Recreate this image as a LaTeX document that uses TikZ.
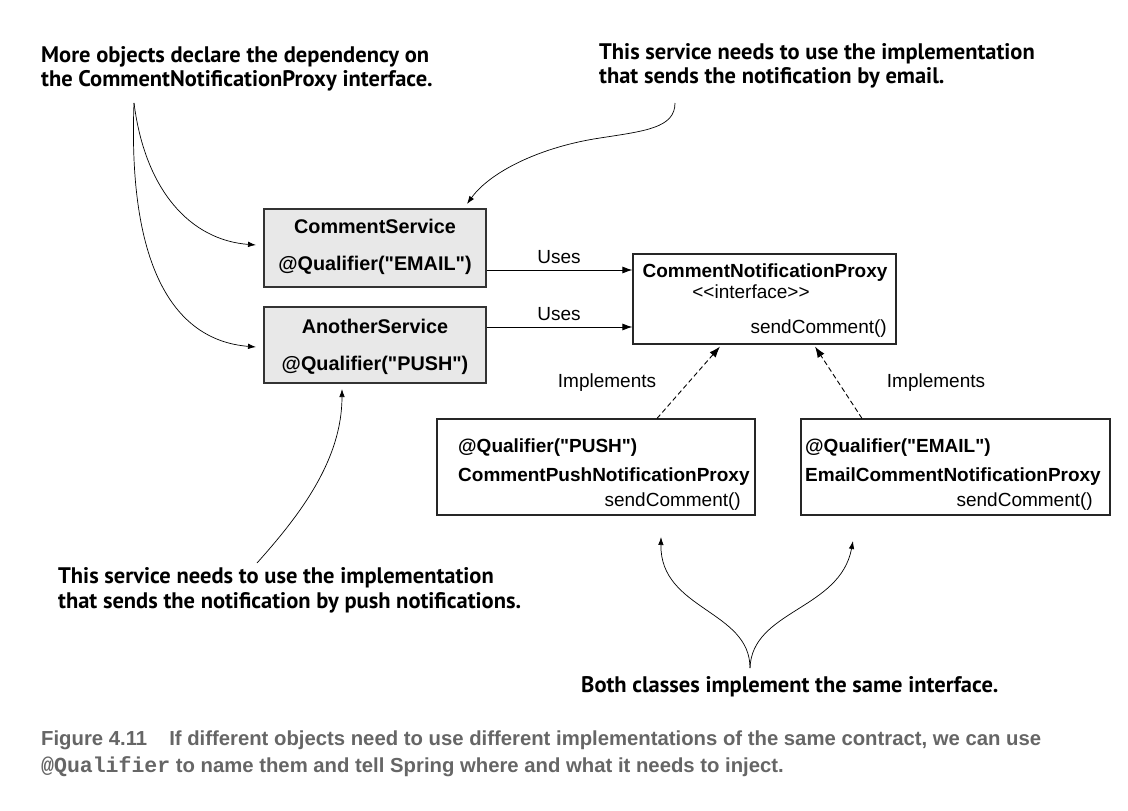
\documentclass[tikz,border=0pt]{standalone}
\usepackage{fontspec}
\setmainfont{Liberation Sans}
\newfontfamily\annotfont{PT Sans}
\newfontfamily\umlfont{Liberation Sans}
\newfontfamily\capfont{Liberation Sans}
\newfontfamily\capmono{Liberation Mono}
\usetikzlibrary{arrows.meta}
\definecolor{boxgrey}{HTML}{E8E8E8}
\definecolor{capgrey}{HTML}{666666}
\begin{document}
\begin{tikzpicture}[x=1pt,y=-1pt,
  svc/.style={draw=black!80, fill=boxgrey, line width=1.2pt, inner sep=0pt},
  cls/.style={draw=black!85, fill=white, line width=1.1pt, inner sep=0pt},
  lbl/.style={font=\umlfont\fontsize{19}{22}\selectfont, inner sep=0pt, anchor=base},
  blbl/.style={lbl, font=\umlfont\bfseries\fontsize{19}{22}\selectfont},
  sbl/.style={lbl, font=\umlfont\bfseries\fontsize{19.8}{22}\selectfont},
  annot/.style={font=\annotfont\bfseries\fontsize{22.5}{25}\selectfont, inner sep=0pt, anchor=base west},
  captxt/.style={font=\capfont\bfseries\fontsize{20.3}{24}\selectfont, text=capgrey, inner sep=0pt, anchor=base west},
  uses/.style={-{Latex[length=10pt,width=7pt]}, line width=0.9pt},
  impl/.style={-{Latex[length=11pt,width=8pt]}, line width=0.9pt, dash pattern=on 5pt off 3pt},
  callout/.style={-{Latex[length=8pt,width=5.5pt]}, line width=0.7pt}
]
\useasboundingbox[fill=white] (0,0) rectangle (1128,811);

% boxes
\node[svc, minimum width=222pt, minimum height=78pt] (cs) at (375,248) {};
\node[svc, minimum width=222pt, minimum height=76pt] (as) at (375,345) {};
\node[cls, minimum width=263pt, minimum height=90pt] (proxy) at (764.5,299) {};
\node[cls, minimum width=318pt, minimum height=96pt] (push) at (596,467) {};
\node[cls, minimum width=309pt, minimum height=96pt] (email) at (955.5,467) {};

% box texts
\node[sbl] (csname) at (375,233) {CommentService};
\node[sbl] (csq) at (375,270) {@Qualifier("EMAIL")};
\node[sbl] (asname) at (375,333) {AnotherService};
\node[sbl] (asq) at (375,370) {@Qualifier("PUSH")};
\node[blbl] (pname) at (765,277) {CommentNotificationProxy};
\node[lbl] (pint) at (751,298) {<{}<interface>{}>};
\node[lbl, anchor=base east] (pm) at (887,333) {sendComment()};
\node[blbl, anchor=base west] (pushq) at (458,452) {@Qualifier("PUSH")};
\node[blbl, anchor=base west] (pushn) at (458,481) {CommentPushNotificationProxy};
\node[lbl, anchor=base east] (pushm) at (741,506) {sendComment()};
\node[blbl, anchor=base west] (emq) at (805,452) {@Qualifier("EMAIL")};
\node[blbl, anchor=base west] (emn) at (805,481) {EmailCommentNotificationProxy};
\node[lbl, anchor=base east] (emm) at (1093,506) {sendComment()};

% connectors
\draw[uses] ([yshift=-22pt]cs.east) -- ([yshift=-22pt]cs.east -| proxy.west);
\draw[uses] ([yshift=18pt]as.east) -- ([yshift=18pt]as.east -| proxy.west);
\node[lbl] (uses1) at (559,263) {Uses};
\node[lbl] (uses2) at (559,320) {Uses};
\draw[impl] ([xshift=61pt]push.north) -- ([xshift=-44.5pt,yshift=-2pt]proxy.south);
\draw[impl] ([xshift=-93.5pt]email.north) -- ([xshift=50.5pt,yshift=-2pt]proxy.south);
\node[lbl] (impl1) at (607,387) {Implements};
\node[lbl] (impl2) at (936,387) {Implements};

% annotations
\node[annot] (tl1) at (41,62) {More objects declare the dependency on};
\node[annot] (tl2) at (41,86) {the CommentNotificationProxy interface.};
\node[annot] (tr1) at (599,59) {This service needs to use the implementation};
\node[annot] (tr2) at (599,83) {that sends the notification by email.};
\node[annot] (bl1) at (58,583) {This service needs to use the implementation};
\node[annot] (bl2) at (58,608) {that sends the notification by push notifications.};
\node[annot] (br) at (581,692) {Both classes implement the same interface.};

\coordinate (tlstart) at (134,103);
\coordinate (trstart) at (675,103);
\coordinate (blstart) at (257,563);
\coordinate (brstart) at (750,668);
\coordinate (cstip) at (256,245);
\coordinate (astip) at (256,347);
\coordinate (cstop) at (467,204);
\coordinate (asbot) at (342,389);
\coordinate (pushbot) at (661,537);
\coordinate (embot) at (853,541);

\draw[callout] (tlstart) .. controls (145,190) and (190,240) .. (cstip);
\draw[callout] (tlstart) .. controls (128,260) and (170,340) .. (astip);
\draw[callout] (trstart) .. controls (675,128) and (645,131) .. (600,138) .. controls (540,147) and (490,172) .. (cstop);
\draw[callout] (blstart) .. controls (300,515) and (342,460) .. (asbot);
\draw[callout] (brstart) .. controls (750,610) and (660,610) .. (pushbot);
\draw[callout] (brstart) .. controls (752,610) and (840,610) .. (embot);

% caption
\node[captxt] (cap1) at (41,745) {Figure 4.11\hspace{22pt}If different objects need to use different implementations of the same contract, we can use};
\node[captxt] (cap2) at (41,772) {{\capmono\bfseries\fontsize{21.5}{24}\selectfont @Qualifier} to name them and tell Spring where and what it needs to inject.};
\end{tikzpicture}
\end{document}
